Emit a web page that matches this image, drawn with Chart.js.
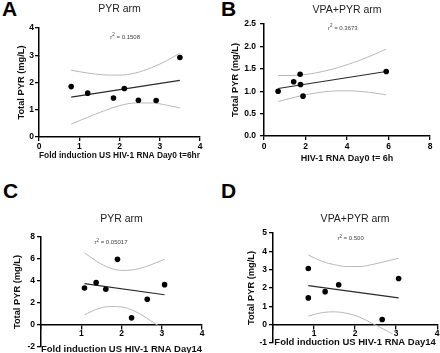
<!DOCTYPE html>
<html>
<head>
<meta charset="utf-8">
<script src="https://cdn.jsdelivr.net/npm/chart.js@4.4.1/dist/chart.umd.min.js"></script>
<style>
html,body{margin:0;padding:0;width:440px;height:353px;overflow:hidden;background:#fff;}
canvas{position:absolute;}
.letter{position:absolute;font:bold 21px "Liberation Sans",Arial,sans-serif;line-height:1;color:#000;}
</style>
</head>
<body>
<div class="letter" style="left:2px;top:-2px">A</div>
<div class="letter" style="left:221px;top:-2px">B</div>
<div class="letter" style="left:3px;top:180px">C</div>
<div class="letter" style="left:221px;top:180px">D</div>
<canvas id="cA" width="220" height="176" style="left:0;top:0;width:220px;height:176px"></canvas>
<canvas id="cB" width="220" height="176" style="left:220px;top:0;width:220px;height:176px"></canvas>
<canvas id="cC" width="220" height="205" style="left:0;top:176px;width:220px;height:205px"></canvas>
<canvas id="cD" width="220" height="200" style="left:220px;top:176px;width:220px;height:200px"></canvas>
<script>
// ---------- Panel A: PYR arm, Day0 t=6hr ----------
const aX = [0.80, 1.21, 1.85, 2.12, 2.47, 2.91, 3.50];
const aY = [1.85, 1.61, 1.43, 1.78, 1.35, 1.34, 2.92];
const aFitX = [0.80, 3.50];
const aFitY = [1.46, 2.08];
const aUpperX = [0.8, 1.2, 1.6, 2.0, 2.4, 2.8, 3.2, 3.5];
const aUpperY = [2.45, 2.35, 2.28, 2.27, 2.35, 2.55, 2.82, 3.08];
const aLowerX = [0.8, 1.2, 1.6, 2.0, 2.4, 2.8, 3.2, 3.5];
const aLowerY = [0.47, 0.72, 0.95, 1.15, 1.25, 1.25, 1.16, 1.07];
const aR2 = '0.1508';

// ---------- Panel B: VPA+PYR arm, Day0 t=6h ----------
const bX = [0.68, 1.43, 1.74, 1.76, 1.88, 5.89];
const bY = [1.00, 1.21, 1.38, 1.15, 0.89, 1.44];
const bFitX = [0.68, 5.89];
const bFitY = [1.06, 1.44];
const bUpperX = [0.68, 1.2, 1.8, 2.5, 3.2, 4.0, 5.0, 5.89];
const bUpperY = [1.35, 1.35, 1.36, 1.41, 1.48, 1.59, 1.76, 1.94];
const bLowerX = [0.68, 1.2, 1.8, 2.5, 3.2, 4.0, 5.0, 5.89];
const bLowerY = [0.77, 0.83, 0.90, 0.96, 1.00, 1.01, 0.98, 0.92];
const bR2 = '0.3673';

// ---------- Panel C: PYR arm, Day14 ----------
const cX = [1.08, 1.37, 1.61, 1.90, 2.25, 2.64, 3.07];
const cY = [3.37, 3.85, 3.25, 5.97, 0.65, 2.34, 3.67];
const cFitX = [1.08, 3.07];
const cFitY = [3.76, 2.75];
const cUpperX = [1.08, 1.4, 1.7, 2.0, 2.3, 2.6, 2.85, 3.07];
const cUpperY = [6.57, 5.75, 5.20, 4.96, 5.02, 5.30, 5.65, 5.97];
const cLowerX = [1.08, 1.4, 1.7, 2.0, 2.3, 2.6, 2.85, 2.92];
const cLowerY = [0.93, 1.45, 1.68, 1.64, 1.30, 0.70, 0.08, -0.05];
const cR2 = '0.05017';

// ---------- Panel D: VPA+PYR arm, Day14 ----------
const dX = [0.86, 0.86, 1.27, 1.60, 2.66, 3.06];
const dY = [3.06, 1.46, 1.80, 2.18, 0.28, 2.52];
const dFitX = [0.86, 3.06];
const dFitY = [2.13, 1.46];
const dUpperX = [0.86, 1.2, 1.5, 1.8, 2.1, 2.4, 2.7, 3.06];
const dUpperY = [3.80, 3.45, 3.27, 3.17, 3.17, 3.27, 3.43, 3.62];
const dLowerX = [0.86, 1.2, 1.5, 1.8, 2.1, 2.46, 2.7, 2.91];
const dLowerY = [0.47, 0.66, 0.70, 0.62, 0.42, 0.02, -0.25, -0.50];
const dR2 = '0.500';

const FAM = '"Liberation Sans", Arial, Helvetica, sans-serif';
const zip = (xs, ys) => xs.map((x, i) => ({x: x, y: ys[i]}));

const r2Plugin = {
  id: 'r2label',
  afterDatasetsDraw(chart, args, opts) {
    const ctx = chart.ctx;
    const px = chart.scales.x.getPixelForValue(opts.x);
    const py = chart.scales.y.getPixelForValue(opts.y);
    const base = '6px ' + FAM, sup = '4.5px ' + FAM;
    const rest = ' = ' + opts.text;
    ctx.save();
    ctx.fillStyle = '#444';
    ctx.textBaseline = 'middle';
    ctx.textAlign = 'left';
    ctx.font = base;
    const w1 = ctx.measureText('r').width;
    const w3 = ctx.measureText(rest).width;
    ctx.font = sup;
    const w2 = ctx.measureText('2').width;
    const sx = px - (w1 + w2 + w3) / 2;
    ctx.font = base; ctx.fillText('r', sx, py);
    ctx.font = sup; ctx.fillText('2', sx + w1, py - 2);
    ctx.font = base; ctx.fillText(rest, sx + w1 + w2, py);
    ctx.restore();
  }
};

function build(id, p) {
  const axisGrid = {display: true, drawOnChartArea: false, drawTicks: true, tickLength: 4, color: '#000', lineWidth: 1.3};
  const axisBorder = {display: true, color: '#000', width: 1.5};
  return new Chart(document.getElementById(id), {
    type: 'scatter',
    data: {datasets: [
      {data: zip(p.x, p.y), pointRadius: 2.8, pointHoverRadius: 2.8, backgroundColor: '#000', borderColor: '#000', borderWidth: 0},
      {data: zip(p.fitX, p.fitY), showLine: true, borderColor: '#2a2a2a', borderWidth: 1.2, pointRadius: 0, fill: false},
      {data: zip(p.ux, p.uy), showLine: true, borderColor: '#b8b8b8', borderWidth: 1, pointRadius: 0, cubicInterpolationMode: 'monotone', fill: false},
      {data: zip(p.lx, p.ly), showLine: true, borderColor: '#b8b8b8', borderWidth: 1, pointRadius: 0, cubicInterpolationMode: 'monotone', fill: false}
    ]},
    plugins: [r2Plugin],
    options: {
      responsive: false, animation: false, events: [],
      layout: {padding: p.pad},
      plugins: {
        legend: {display: false}, tooltip: {enabled: false},
        title: {display: true, text: p.title, fullSize: false, color: '#222',
          font: {family: FAM, size: 10.5, weight: 'normal', lineHeight: 1.2},
          padding: {top: p.tp1, bottom: p.tp2}},
        r2label: {x: p.r2x, y: p.r2y, text: p.r2}
      },
      scales: {
        x: {type: 'linear', min: p.xmin, max: p.xmax, position: p.xPos,
          afterFit: s => { s.height = p.xH; },
          border: axisBorder, grid: axisGrid,
          ticks: {stepSize: p.xStep, autoSkip: false, maxRotation: 0, color: '#000', padding: p.xTickPad,
            font: {family: FAM, size: 8.5, weight: 'bold'},
            callback: v => (p.hideX0 && v === 0) ? '' : String(v)},
          title: {display: true, text: p.xTitle, color: '#111',
            font: {family: FAM, size: p.xTitleSize, weight: 'bold', lineHeight: 1.2},
            padding: {top: 0, bottom: p.xTitlePad}}
        },
        y: {type: 'linear', min: p.ymin, max: p.ymax, position: 'left',
          afterFit: s => { s.width = p.yW; },
          border: axisBorder, grid: axisGrid,
          ticks: {stepSize: p.yStep, autoSkip: false, color: '#000', padding: p.yTickPad,
            font: {family: FAM, size: 8.5, weight: 'bold'},
            callback: v => p.yDec ? v.toFixed(p.yDec) : String(v)},
          title: {display: true, text: 'Total PYR (mg/L)', color: '#111',
            font: {family: FAM, size: 9.3, weight: 'bold', lineHeight: 1.2},
            padding: {top: p.yTitlePad, bottom: 0}}
        }
      }
    }
  });
}

build('cA', {x: aX, y: aY, fitX: aFitX, fitY: aFitY, ux: aUpperX, uy: aUpperY, lx: aLowerX, ly: aLowerY,
  r2: aR2, r2x: 2.14, r2y: 3.67, title: 'PYR arm', tp1: 2.7, tp2: 12.7,
  pad: {left: 0, top: 0, right: 20, bottom: 0},
  xmin: 0, xmax: 4, xStep: 1, xPos: 'bottom', xH: 39, xTickPad: 1, xTitle: 'Fold induction US HIV-1 RNA Day0 t=6hr', xTitleSize: 9, xTitlePad: 14.6,
  ymin: 0, ymax: 4, yStep: 1, yW: 39, yTickPad: 1, yTitlePad: 15.6});

build('cB', {x: bX, y: bY, fitX: bFitX, fitY: bFitY, ux: bUpperX, uy: bUpperY, lx: bLowerX, ly: bLowerY,
  r2: bR2, r2x: 3.8, r2y: 2.41, title: 'VPA+PYR arm', tp1: 3.7, tp2: 7.7,
  pad: {left: 0, top: 0, right: 10, bottom: 0},
  xmin: 0, xmax: 8, xStep: 2, xPos: 'bottom', xH: 40, xTickPad: 2, xTitle: 'HIV-1 RNA Day0 t= 6h', xTitleSize: 9, xTitlePad: 11.6,
  ymin: 0, ymax: 2.5, yStep: 0.5, yDec: 1, yW: 44, yTickPad: 4, yTitlePad: 9.6});

build('cC', {x: cX, y: cY, fitX: cFitX, fitY: cFitY, ux: cUpperX, uy: cUpperY, lx: cLowerX, ly: cLowerY,
  r2: cR2, r2x: 1.74, r2y: 7.5, title: 'PYR arm', tp1: 36.7, tp2: 11.7,
  pad: {left: 0, top: 0, right: 18, bottom: 34},
  xmin: 0, xmax: 4, xStep: 1, xPos: {y: 0}, hideX0: true, xH: 34, xTickPad: 0, xTitle: 'Fold induction US HIV-1 RNA Day14', xTitleSize: 9.5, xTitlePad: 4.3,
  ymin: -2, ymax: 8, yStep: 2, yW: 41, yTickPad: 2, yTitlePad: 11.6});

build('cD', {x: dX, y: dY, fitX: dFitX, fitY: dFitY, ux: dUpperX, uy: dUpperY, lx: dLowerX, ly: dLowerY,
  r2: dR2, r2x: 1.89, r2y: 4.7, title: 'VPA+PYR arm', tp1: 36.7, tp2: 7.7,
  pad: {left: 0, top: 0, right: 2, bottom: 33},
  xmin: 0, xmax: 4, xStep: 1, xPos: {y: 0}, hideX0: true, xH: 33, xTickPad: 0, xTitle: 'Fold induction US HIV-1 RNA Day14', xTitleSize: 9.5, xTitlePad: 9.3,
  ymin: -1, ymax: 5, yStep: 1, yW: 53, yTickPad: 2, yTitlePad: 26.3});
</script>
</body>
</html>
